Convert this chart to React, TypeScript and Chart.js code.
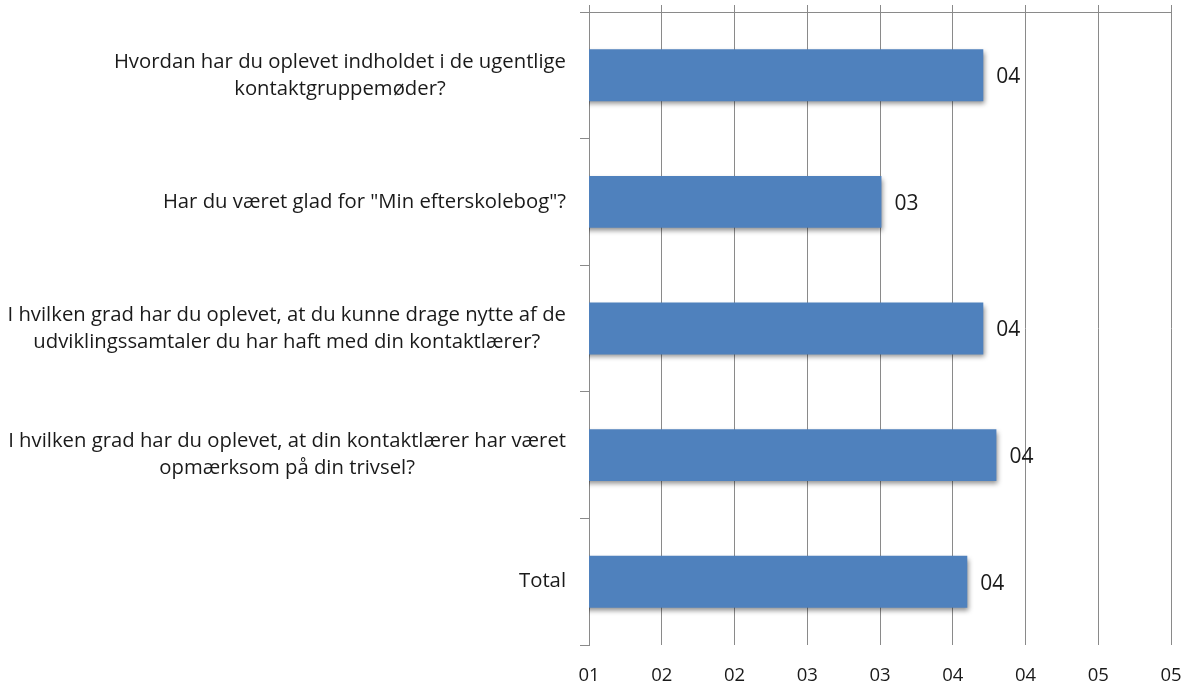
import React, { useEffect, useRef } from "react";
import { Chart, registerables } from "chart.js";

Chart.register(...registerables);

const categories: string[][] = [
  ["Hvordan har du oplevet indholdet i de ugentlige", "kontaktgruppemøder?"],
  ['Har du været glad for "Min efterskolebog"?'],
  [
    "I hvilken grad har du oplevet, at du kunne drage nytte af de",
    "udviklingssamtaler du har haft med din kontaktlærer?",
  ],
  [
    "I hvilken grad har du oplevet, at din kontaktlærer har været",
    "opmærksom på din trivsel?",
  ],
  ["Total"],
];

const values: number[] = [3.71, 3.01, 3.71, 3.8, 3.6];
const valueLabels: string[] = ["04", "03", "04", "04", "04"];
const tickLabels: string[] = ["01", "02", "02", "03", "03", "04", "04", "05", "05"];

const FONT = "'Open Sans', 'Noto Sans', sans-serif";
const GRID = "#8a8a8a";
const TEXT = "#1a1a1a";

const shadowPlugin = {
  id: "barShadow",
  beforeDatasetsDraw(chart: any) {
    const ctx = chart.ctx;
    ctx.save();
    ctx.shadowColor = "rgba(0,0,0,0.45)";
    ctx.shadowBlur = 5;
    ctx.shadowOffsetX = 2;
    ctx.shadowOffsetY = 3;
  },
  afterDatasetsDraw(chart: any) {
    chart.ctx.restore();
  },
};

const labelPlugin = {
  id: "textLabels",
  afterDraw(chart: any) {
    const ctx = chart.ctx;
    ctx.save();
    ctx.fillStyle = TEXT;
    ctx.textBaseline = "middle";
    // value labels
    ctx.font = `21px ${FONT}`;
    const meta = chart.getDatasetMeta(0);
    meta.data.forEach((bar: any, i: number) => {
      ctx.textAlign = "left";
      ctx.fillText(valueLabels[i], bar.x + 13, bar.y + 2);
    });
    // category labels: block right-aligned, lines centered within block
    ctx.font = `20.3px ${FONT}`;
    const yScale = chart.scales.y;
    const rightEdge = yScale.right - 23;
    const lineH = 27;
    categories.forEach((lines, i) => {
      const cy = yScale.getPixelForValue(i);
      const widths = lines.map((l) => ctx.measureText(l).width);
      const blockW = Math.max(...widths);
      const cx = rightEdge - blockW / 2;
      ctx.textAlign = "center";
      const startY = cy - ((lines.length - 1) * lineH) / 2;
      lines.forEach((l, j) => {
        ctx.fillText(l, cx, startY + j * lineH);
      });
    });
    ctx.restore();
  },
};

export default function App() {
  const canvasRef = useRef<HTMLCanvasElement | null>(null);

  useEffect(() => {
    if (!canvasRef.current) return;
    const chart = new Chart(canvasRef.current, {
      type: "bar",
      data: {
        labels: categories.map((c) => c.join(" ")),
        datasets: [
          {
            data: values,
            backgroundColor: "#4F81BD",
            borderWidth: 0,
            categoryPercentage: 1,
            barPercentage: 0.41,
          },
        ],
      },
      options: {
        indexAxis: "y",
        animation: false,
        responsive: true,
        maintainAspectRatio: false,
        layout: { padding: { top: 5, right: 15, left: 0, bottom: 0 } },
        plugins: {
          legend: { display: false },
          tooltip: { enabled: false },
          title: { display: false },
        },
        scales: {
          x: {
            type: "linear",
            position: "bottom",
            min: 1,
            max: 5,
            ticks: {
              stepSize: 0.5,
              color: TEXT,
              font: { family: FONT, size: 18.5 },
              padding: 20,
              maxRotation: 0,
              autoSkip: false,
              callback: (_v: any, i: number) => tickLabels[i],
            },
            grid: { color: GRID, lineWidth: 1, drawTicks: false },
            border: { display: false },
            afterFit: (s: any) => {
              s.height = 46;
              s.paddingLeft = 0;
              s.paddingRight = 0;
            },
          },
          x2: {
            type: "linear",
            position: "top",
            min: 1,
            max: 5,
            ticks: { stepSize: 0.5, display: false },
            grid: {
              color: GRID,
              lineWidth: 1,
              drawOnChartArea: false,
              drawTicks: true,
              tickLength: 7,
            },
            border: { display: true, color: GRID, width: 1 },
            afterFit: (s: any) => {
              s.height = 7;
              s.paddingLeft = 0;
              s.paddingRight = 0;
            },
          },
          y: {
            type: "category",
            position: "left",
            offset: true,
            ticks: { display: false },
            grid: {
              offset: true,
              color: GRID,
              lineWidth: 1,
              drawOnChartArea: false,
              drawTicks: true,
              tickLength: 9,
            },
            border: { display: true, color: GRID, width: 1 },
            afterFit: (s: any) => {
              s.width = 589;
              s.paddingTop = 0;
              s.paddingBottom = 0;
            },
          },
        },
      },
      plugins: [shadowPlugin, labelPlugin],
    });
    return () => chart.destroy();
  }, []);

  return (
    <div style={{ position: "absolute", left: 0, top: 0, width: 1186, height: 691 }}>
      <canvas ref={canvasRef} />
    </div>
  );
}
